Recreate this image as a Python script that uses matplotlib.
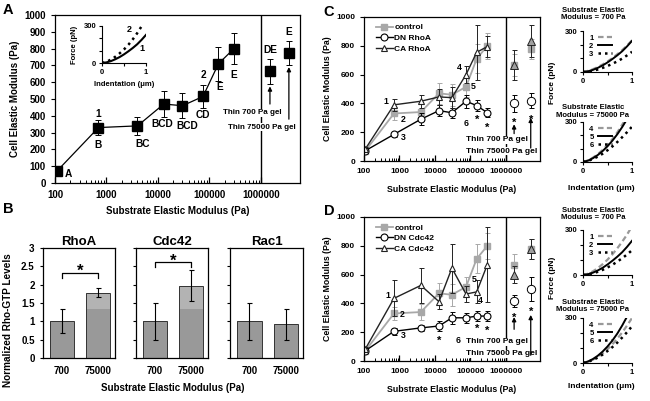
import matplotlib
matplotlib.use("Agg")
import matplotlib.pyplot as plt
from matplotlib.ticker import FixedLocator, NullFormatter

W, H = 650, 401
PT = 0.72  # points per pixel at dpi 100

# substrate stiffness (Pa) used in panels A, C, D
substrate = [110, 700, 4000, 13000, 30000, 75000, 150000, 300000]
thin_gels = ["Thin 700 Pa gel", "Thin 75000 Pa gel"]

control_mean = [72, 330, 340, 470, 460, 515, 710, 800]
control_err = [12, 45, 55, 75, 75, 70, 100, 90]
control_thin_mean = [665, 775]
control_thin_err = [75, 70]
control_letters = ["A", "B", "BC", "BCD", "BCD", "CD", "E", "E"]
control_thin_letters = ["DE", "E"]

dn_rhoa_mean = [72, 185, 290, 350, 335, 415, 385, 335]
dn_rhoa_err = [10, 15, 40, 40, 35, 45, 40, 30]
dn_rhoa_thin_mean = [400, 420]
dn_rhoa_thin_err = [60, 55]
ca_rhoa_mean = [85, 390, 415, 445, 440, 600, 755, 795]
ca_rhoa_err = [15, 40, 45, 55, 75, 60, 190, 70]
ca_rhoa_thin_mean = [665, 835]
ca_rhoa_thin_err = [105, 110]

dn_cdc42_mean = [72, 206, 230, 243, 300, 300, 312, 312]
dn_cdc42_err = [10, 25, 20, 35, 40, 35, 35, 35]
dn_cdc42_thin_mean = [415, 500]
dn_cdc42_thin_err = [40, 80]
ca_cdc42_mean = [85, 435, 525, 412, 645, 465, 480, 670]
ca_cdc42_err = [15, 125, 120, 50, 170, 55, 80, 260]
ca_cdc42_thin_mean = [600, 775]
ca_cdc42_thin_err = [60, 70]

# panel B: normalized Rho-GTP levels
bar_labels = ["700", "75000"]
gtpases = ["RhoA", "Cdc42", "Rac1"]
rhoa_mean = [1.0, 1.78]
rhoa_err = [0.33, 0.12]
cdc42_mean = [1.0, 1.97]
cdc42_err = [0.5, 0.42]
rac1_mean = [1.0, 0.92]
rac1_err = [0.5, 0.42]
bracket_height = [2.33, 2.62, None]

# force-indentation curves
indentation = [0.0, 0.1, 0.2, 0.3, 0.4, 0.5, 0.6, 0.7, 0.8, 0.9, 1.0]
force_a1 = [0, 5, 15, 30, 48, 70, 95, 122, 152, 188, 228]
force_a2 = [0, 10, 27, 50, 78, 110, 148, 192, 242, 298, 360]
force_c1 = [0, 8, 20, 36, 55, 77, 102, 130, 160, 194, 232]
force_c2 = [0, 5, 15, 30, 48, 70, 95, 122, 152, 188, 228]
force_c3 = [0, 3, 9, 18, 30, 44, 60, 78, 98, 122, 148]
force_c4 = [0, 12, 32, 58, 90, 128, 172, 222, 280, 340, 400]
force_c5 = [0, 10, 28, 52, 82, 118, 160, 208, 262, 322, 385]
force_c6 = [0, 8, 22, 40, 62, 88, 117, 150, 186, 224, 265]
force_d1 = [0, 8, 24, 45, 72, 102, 138, 178, 222, 270, 325]
force_d2 = [0, 5, 15, 30, 48, 70, 95, 122, 152, 188, 228]
force_d3 = [0, 4, 11, 21, 34, 50, 68, 89, 112, 137, 165]
force_d4 = [0, 8, 22, 40, 64, 92, 125, 162, 204, 250, 300]
force_d5 = [0, 10, 26, 48, 76, 110, 150, 196, 250, 310, 375]
force_d6 = [0, 8, 20, 36, 56, 80, 106, 136, 170, 206, 245]
curve_names_soft = ["1", "2", "3"]
curve_names_stiff = ["4", "5", "6"]

GRAY = "#a8a8a8"

plt.rcParams["font.family"] = ["Liberation Sans", "DejaVu Sans"]
plt.rcParams["font.weight"] = "bold"
plt.rcParams["axes.labelweight"] = "bold"
plt.rcParams["axes.linewidth"] = 0.9


def px_axes(fig, left, right, top, bottom):
    return fig.add_axes([left / W, 1 - bottom / H, (right - left) / W, (bottom - top) / H])


def setup_modulus_axes(ax, xmax, ystep, fs):
    ax.set_xscale("log")
    ax.set_xlim(100, xmax)
    ax.set_ylim(0, 1000)
    decades = [1e2, 1e3, 1e4, 1e5, 1e6]
    ax.xaxis.set_major_locator(FixedLocator(decades))
    ax.set_xticklabels(["100", "1000", "10000", "100000", "1000000"])
    minor = [m * 10 ** e for e in range(2, 6) for m in range(2, 10)]
    ax.xaxis.set_minor_locator(FixedLocator(minor))
    ax.xaxis.set_minor_formatter(NullFormatter())
    ax.set_yticks(range(0, 1001, ystep))
    ax.tick_params(axis="x", which="both", direction="in", labelsize=fs, pad=5)
    ax.tick_params(axis="x", which="major", length=4, width=0.9)
    ax.tick_params(axis="x", which="minor", length=2.5, width=0.7)
    ax.tick_params(axis="y", direction="out", length=3, labelsize=fs)
    ax.axvline(1e6, color="black", lw=1.0, zorder=1)


def thin_callouts(ax, thin_x, arrow_from, arrow_to, text_xy, fs):
    for label, (tx, ty) in zip(thin_gels, text_xy):
        ax.text(tx, ty, label, transform=ax.transAxes, ha="right", va="center",
                fontsize=fs, zorder=3,
                bbox=dict(facecolor="white", edgecolor="none", pad=0.6))
    for x, y0, y1 in zip(thin_x, arrow_from, arrow_to):
        ax.annotate("", xy=(x, y1), xytext=(x, y0), zorder=4,
                    arrowprops=dict(arrowstyle="-|>", color="black", lw=0.9,
                                    mutation_scale=6, shrinkA=0, shrinkB=0))


def label_at(ax, text, x, y, dx, dy, fs):
    # dx, dy in pixels, dy positive = downward
    ax.annotate(text, xy=(x, y), xytext=(dx * PT, -dy * PT), textcoords="offset points",
                ha="center", va="center", fontsize=fs, zorder=5)


def style_force_axes(ax, fs):
    ax.set_xlim(0, 1)
    ax.set_ylim(0, 300)
    for side in ("top", "right"):
        ax.spines[side].set_visible(False)
    ax.spines["left"].set_linewidth(0.8)
    ax.spines["bottom"].set_linewidth(0.8)
    ax.set_yticks([0, 100, 200, 300])
    ax.set_yticklabels(["0", "", "", "300"])
    ax.set_xticks([0, 0.5, 1])
    ax.set_xticklabels(["0", "", "1"])
    ax.tick_params(length=2.5, width=0.8, labelsize=fs, pad=1.5)
    ax.patch.set_alpha(0)


def plot_panel_a(fig):
    ax = px_axes(fig, 55, 300, 15, 183)
    setup_modulus_axes(ax, 10 ** 6.76, 100, 7)
    ax.errorbar(substrate, control_mean, yerr=control_err, color="black", marker="s",
                ms=6.5, lw=0.9, capsize=2, elinewidth=0.7, capthick=0.7)
    thin_x = [1.5e6, 3.5e6]
    ax.errorbar(thin_x, control_thin_mean, yerr=control_thin_err, color="black", marker="s",
                ms=6.5, ls="none", capsize=2, elinewidth=0.7, capthick=0.7)
    offsets = [(11, 3), (0, 17), (5, 18), (-2, 20), (5, 20), (0, 19), (1, 23), (0, 26)]
    for x, y, txt, (dx, dy) in zip(substrate, control_mean, control_letters, offsets):
        label_at(ax, txt, x, y, dx, dy, 7.3)
    for x, y, txt in zip(thin_x, control_thin_mean, control_thin_letters):
        label_at(ax, txt, x, y, 0, -21, 7.3)
    label_at(ax, "1", substrate[1], control_mean[1], 0, -14, 7.3)
    label_at(ax, "2", substrate[5], control_mean[5], 0, -21, 7.3)
    thin_callouts(ax, thin_x, [470, 380], [575, 690],
                  [(0.927, 0.417), (0.984, 0.333)], 5.8)
    ax.set_xlabel("Substrate Elastic Modulus (Pa)", fontsize=7, labelpad=4)
    ax.set_ylabel("Cell Elastic Modulus (Pa)", fontsize=7, labelpad=3)

    # inset: representative force curves
    ins = px_axes(fig, 102, 146, 26, 63)
    style_force_axes(ins, 5.5)
    ins.plot(indentation, force_a1, color="black", lw=1.5)
    ins.plot(indentation, force_a2, color="black", lw=1.8, ls=(0, (1, 1.6)))
    ins.text(0.62, 270, "2", fontsize=6.5, ha="center", va="center")
    ins.text(0.92, 120, "1", fontsize=6.5, ha="center", va="center")
    fig.text(75 / W, 1 - 45 / H, "Force (pN)", rotation=90, fontsize=5.5, ha="center", va="center")
    fig.text(124 / W, 1 - 84 / H, "Indentation (\u03bcm)", fontsize=5.5, ha="center", va="center")


def plot_panel_b(fig):
    boxes = [(43, 115), (136, 208), (230, 303)]
    means = [rhoa_mean, cdc42_mean, rac1_mean]
    errs = [rhoa_err, cdc42_err, rac1_err]
    split = 1.33
    for i, ((l, r), name, m, e, bh) in enumerate(zip(boxes, gtpases, means, errs, bracket_height)):
        ax = px_axes(fig, l, r, 248, 358)
        x = list(range(len(bar_labels)))
        ax.bar(x, m, width=0.67, color="#999999", edgecolor="none")
        upper = [max(v - split, 0) for v in m]
        ax.bar(x, upper, bottom=split, width=0.67, color="#b3b3b3", edgecolor="none")
        ax.bar(x, m, width=0.67, fill=False, edgecolor="#333333", lw=0.7)
        ax.errorbar(x, m, yerr=e, ls="none", color="black", capsize=1.8,
                    elinewidth=0.8, capthick=0.8)
        ax.set_xlim(-0.53, 1.47)
        ax.set_ylim(0, 3)
        ax.set_xticks(x)
        ax.set_xticklabels(bar_labels)
        ax.set_yticks([0, 0.5, 1, 1.5, 2, 2.5, 3])
        ax.set_yticklabels(["0", "0.5", "1", "1.5", "2", "2.5", "3"])
        ax.tick_params(axis="x", length=0, labelsize=7, pad=6)
        ax.tick_params(axis="y", length=2.5, labelsize=7, direction="out")
        if i > 0:
            ax.tick_params(axis="y", labelleft=False)
        ax.set_title(name, fontsize=9.5, pad=1.5, fontweight="bold")
        if bh is not None:
            ax.plot([0, 0, 1, 1], [bh - 0.15, bh, bh, bh - 0.15], color="black", lw=0.9)
            ax.text(0.5, bh - 0.1, "*", ha="center", va="baseline", fontsize=12)
    fig.text(8 / W, 1 - 320 / H, "Normalized Rho-GTP Levels", rotation=90,
             fontsize=7.2, ha="center", va="center")
    fig.text(173 / W, 1 - 388 / H, "Substrate Elastic Modulus (Pa)",
             fontsize=7, ha="center", va="center")


def plot_modulus_panel(fig, top, bottom, name, dn_mean, dn_err, dn_thin, dn_thin_err,
                       ca_mean, ca_err, ca_thin, ca_thin_err, nums, stars, thin_layout):
    ax = px_axes(fig, 364, 540, top, bottom)
    setup_modulus_axes(ax, 10 ** 6.96, 200, 6)
    thin_x = [1.7e6, 5.0e6]
    eb = dict(capsize=1.8, elinewidth=0.7, capthick=0.7)
    ax.errorbar(substrate, control_mean, yerr=control_err, color=GRAY, ls="none", **eb)
    ax.errorbar(thin_x, control_thin_mean, yerr=control_thin_err, color=GRAY, ls="none", **eb)
    ax.plot(substrate, control_mean, color=GRAY, marker="s", ms=5, lw=1.3, label="control")
    ax.plot(thin_x, control_thin_mean, color=GRAY, marker="s", ms=5, ls="none")
    ax.errorbar(substrate, dn_mean, yerr=dn_err, color="black", ls="none", **eb)
    ax.errorbar(thin_x, dn_thin, yerr=dn_thin_err, color="black", ls="none", **eb)
    ax.plot(substrate, dn_mean, color="black", marker="o", ms=5, mfc="white", mew=0.8,
            lw=1.0, label="DN " + name)
    ax.plot(thin_x, dn_thin, color="black", marker="o", ms=6, mfc="white", mew=0.7, ls="none")
    ax.errorbar(substrate, ca_mean, yerr=ca_err, color="#222222", ls="none", **eb)
    ax.errorbar(thin_x, ca_thin, yerr=ca_thin_err, color="#222222", ls="none", **eb)
    ax.plot(substrate, ca_mean, color="#222222", marker="^", ms=5, mfc="white", mew=0.8,
            lw=1.0, label="CA " + name)
    ax.plot(thin_x, ca_thin, color="#222222", marker="^", ms=6, mfc="#a0a0a0", mew=0.7,
            ls="none")
    ax.legend(loc="upper left", bbox_to_anchor=(0.03, 1.0), frameon=False, fontsize=6,
              handlelength=2.0, handletextpad=0.2, labelspacing=0.35, borderpad=0.3)

    series = {"ca": ca_mean, "ctrl": control_mean, "dn": dn_mean}
    for txt, key, idx, dx, dy in nums:
        label_at(ax, txt, substrate[idx], series[key][idx], dx, dy, 6.3)
    for idx, dy in stars:
        label_at(ax, "*", substrate[idx], dn_mean[idx] - dn_err[idx], 0, dy, 8)
    for x, y, e in zip(thin_x, dn_thin, dn_thin_err):
        label_at(ax, "*", x, y - e, 0, 11, 8)

    arrow_from, arrow_to, text_xy = thin_layout
    thin_callouts(ax, thin_x, arrow_from, arrow_to, text_xy, 6)
    ax.set_xlabel("Substrate Elastic Modulus (Pa)", fontsize=6.3, labelpad=7)
    ax.set_ylabel("Cell Elastic Modulus (Pa)", fontsize=6.3, labelpad=3)


def plot_force_column(fig, panels):
    styles = [dict(color="#999999", lw=1.6, ls=(0, (2.5, 1.5))),
              dict(color="black", lw=1.4, ls="-"),
              dict(color="black", lw=1.8, ls=(0, (1, 1.6)))]
    for top, bottom, title_y, title, curves, names in panels:
        ax = px_axes(fig, 583, 632, top, bottom)
        style_force_axes(ax, 5.5)
        for f, st, nm in zip(curves, styles, names):
            ax.plot(indentation, f, label=nm, **st)
        ax.legend(loc="upper left", bbox_to_anchor=(0.05, 1.01), frameon=False, fontsize=5.5,
                  markerfirst=False, handlelength=1.8, handletextpad=0.6,
                  labelspacing=0.1, borderpad=0)
        fig.text(593 / W, 1 - title_y / H, title,
                 fontsize=5.5, ha="center", va="center", linespacing=1.1)


def main():
    fig = plt.figure(figsize=(W / 100, H / 100), dpi=100)
    plot_panel_a(fig)
    plot_panel_b(fig)

    c_nums = [("1", "ca", 1, -8, -3), ("2", "ctrl", 1, 9, 6), ("3", "dn", 1, 9, 3),
              ("4", "ca", 5, -7, -7), ("5", "ctrl", 5, 7, 0), ("6", "dn", 5, 0, 22)]
    plot_modulus_panel(fig, 17, 161, "RhoA", dn_rhoa_mean, dn_rhoa_err, dn_rhoa_thin_mean,
                       dn_rhoa_thin_err, ca_rhoa_mean, ca_rhoa_err, ca_rhoa_thin_mean,
                       ca_rhoa_thin_err, c_nums, [(6, 9), (7, 11)],
                       ([190, 90], [255, 300], [(0.932, 0.146), (0.983, 0.069)]))
    d_nums = [("1", "ca", 1, -6, -3), ("2", "ctrl", 1, 8, 1), ("3", "dn", 1, 9, 4),
              ("4", "ca", 5, 14, 6), ("5", "ctrl", 5, 8, -7), ("6", "dn", 5, -8, 23)]
    plot_modulus_panel(fig, 217, 361, "Cdc42", dn_cdc42_mean, dn_cdc42_err, dn_cdc42_thin_mean,
                       dn_cdc42_thin_err, ca_cdc42_mean, ca_cdc42_err, ca_cdc42_thin_mean,
                       ca_cdc42_thin_err, d_nums, [(3, 10), (6, 8), (7, 10)],
                       ([220, 40], [305, 320], [(0.932, 0.132), (0.983, 0.049)]))

    soft = "Substrate Elastic\nModulus = 700 Pa"
    stiff = "Substrate Elastic\nModulus = 75000 Pa"
    plot_force_column(fig, [
        (31, 72, 14, soft, [force_c1, force_c2, force_c3], curve_names_soft),
        (122, 162, 111.5, stiff, [force_c4, force_c5, force_c6], curve_names_stiff),
        (230, 275, 214, soft, [force_d1, force_d2, force_d3], curve_names_soft),
        (318, 363, 306, stiff, [force_d4, force_d5, force_d6], curve_names_stiff),
    ])
    for y in (83, 278):
        fig.text(553 / W, 1 - y / H, "Force (pN)", rotation=90, fontsize=6, ha="center", va="center")
    for y in (188, 387):
        fig.text(601 / W, 1 - y / H, "Indentation (\u03bcm)", fontsize=6, ha="center", va="center")

    for letter, x, y in [("A", 8, 10), ("B", 8, 209), ("C", 329, 12), ("D", 329, 211)]:
        fig.text(x / W, 1 - y / H, letter, fontsize=10.5, ha="center", va="center")

    fig.savefig("out.png", dpi=100)


if __name__ == "__main__":
    main()
